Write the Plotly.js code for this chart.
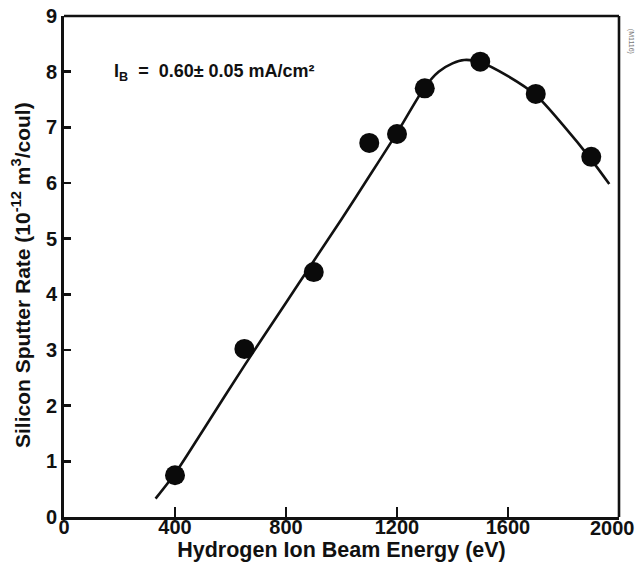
<!DOCTYPE html>
<html>
<head>
<meta charset="utf-8">
<script src="https://cdn.plot.ly/plotly-3.0.1.min.js"></script>
<style>html,body{margin:0;padding:0;background:#fff;}#chart{width:638px;height:567px;}</style>
</head>
<body>
<div id="chart"></div>
<script>
// Measured data points
const energy = [400, 650, 900, 1100, 1200, 1300, 1500, 1700, 1900];
const sputterRate = [0.75, 3.02, 4.40, 6.72, 6.88, 7.70, 8.18, 7.60, 6.47];

// Hand-drawn fit curve
const curveX = [330, 400, 500, 650, 800, 900, 1000, 1100, 1200, 1300, 1350, 1400, 1442, 1500, 1600, 1700, 1800, 1900, 1965];
const curveY = [0.33, 0.78, 1.55, 2.72, 3.85, 4.6, 5.35, 6.12, 6.9, 7.72, 8.0, 8.15, 8.21, 8.17, 7.92, 7.58, 7.03, 6.42, 5.98];

const xTicks = [0, 400, 800, 1200, 1600, 2000];
const yTicks = [0, 1, 2, 3, 4, 5, 6, 7, 8, 9];

const font = "Liberation Sans, Arial, Helvetica, sans-serif";
const ink = '#111';

const traces = [
  {
    x: curveX, y: curveY, type: 'scatter', mode: 'lines',
    line: {color: ink, width: 2.6, shape: 'spline', smoothing: 0.8},
    hoverinfo: 'skip', showlegend: false
  },
  {
    x: energy, y: sputterRate, type: 'scatter', mode: 'markers',
    marker: {color: '#0a0a0a', size: 20, line: {width: 0}},
    showlegend: false
  }
];

const lastX = xTicks[xTicks.length - 1];

const layout = {
  width: 638, height: 567,
  margin: {l: 64, r: 19, t: 16, b: 50},
  paper_bgcolor: '#fff', plot_bgcolor: '#fff',
  font: {family: font, color: ink},
  xaxis: {
    range: [0, lastX], tickvals: xTicks.slice(0, -1), ticktext: xTicks.slice(0, -1).map(String),
    ticks: 'inside', ticklen: 10, tickwidth: 2, tickcolor: ink,
    showline: true, linewidth: 3, linecolor: ink,
    showgrid: false, zeroline: false, ticklabelstandoff: -10,
    tickfont: {size: 20, family: font, color: ink, weight: 'bold'},
    title: {text: 'Hydrogen Ion Beam Energy (eV)', font: {size: 21.5, family: font, color: ink, weight: 'bold'}, standoff: 2}
  },
  yaxis: {
    range: [0, 9], tickvals: yTicks, ticktext: yTicks.map(String),
    ticks: 'inside', ticklen: 7, tickwidth: 2.5, tickcolor: ink,
    showline: true, linewidth: 3, linecolor: ink,
    showgrid: false, zeroline: false, ticklabelstandoff: 0,
    tickfont: {size: 20, family: font, color: ink, weight: 'bold'}
  },
  shapes: [
    {type: 'line', xref: 'paper', yref: 'paper', x0: 0, x1: 1, y0: 1, y1: 1, line: {color: ink, width: 2.6}},
    {type: 'line', xref: 'paper', yref: 'paper', x0: 1, x1: 1, y0: 0, y1: 1, line: {color: ink, width: 2.6}}
  ],
  annotations: [
    {
      xref: 'x', yref: 'paper', x: lastX, y: 0, xanchor: 'right', yanchor: 'top', xshift: 18, yshift: 2,
      text: String(lastX), showarrow: false,
      font: {size: 20, family: font, color: ink, weight: 'bold'}
    },
    {
      xref: 'paper', yref: 'paper', x: -0.0775, y: 0.483, xanchor: 'center', yanchor: 'middle',
      text: 'Silicon Sputter Rate (10<sup>-12</sup> m<sup>3</sup>/coul)', showarrow: false, textangle: -90,
      font: {size: 21, family: font, color: ink, weight: 'bold'}
    },
    {
      xref: 'paper', yref: 'paper', x: 0.086, y: 0.887, xanchor: 'left', yanchor: 'middle',
      text: 'I<sub>B</sub>  =  0.60± 0.05 mA/cm²', showarrow: false,
      font: {size: 18, family: font, color: ink, weight: 'bold'}
    },
    {
      xref: 'paper', yref: 'paper', x: 1.022, y: 0.95, xanchor: 'center', yanchor: 'middle',
      text: '(M1116)', showarrow: false, textangle: 90,
      font: {size: 7, family: font, color: '#777'}
    }
  ]
};

Plotly.newPlot('chart', traces, layout, {displayModeBar: false, staticPlot: true});
</script>
</body>
</html>
